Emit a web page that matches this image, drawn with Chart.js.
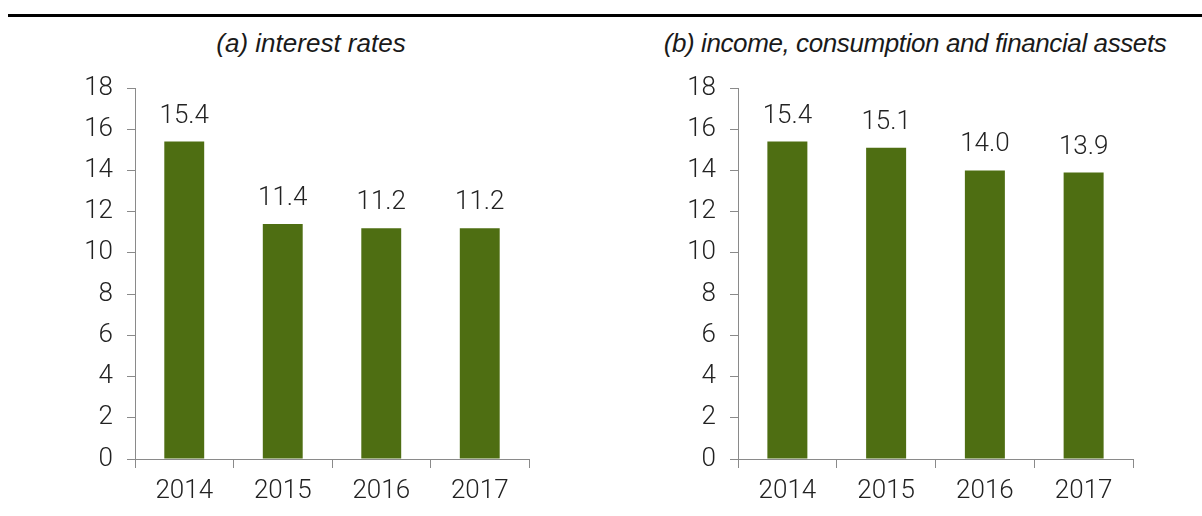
<!DOCTYPE html>
<html><head><meta charset="utf-8">
<script src="https://cdn.jsdelivr.net/npm/chart.js@4.4.0/dist/chart.umd.min.js"></script>
<style>
html,body{margin:0;padding:0;background:#fff;width:1202px;height:516px;overflow:hidden;position:relative;}
.rule{position:absolute;left:8px;top:14px;width:1194px;height:3px;background:#000;}
.ttl{position:absolute;top:28px;font-family:'Liberation Sans',sans-serif;font-style:italic;font-size:26px;line-height:30px;color:#1a1a1a;text-align:center;white-space:nowrap;}
.cv{position:absolute;top:50px;}
</style></head>
<body>
<div class="rule"></div>
<div class="ttl" id="t1" style="left:111px;width:400px;">(a) interest rates</div>
<div class="ttl" id="t2" style="left:615px;width:600px;letter-spacing:-0.4px;">(b) income, consumption and financial assets</div>
<div class="cv" style="left:0px;width:560px;height:466px;"><canvas id="c1"></canvas></div>
<div class="cv" style="left:600px;width:566px;height:466px;"><canvas id="c2"></canvas></div>
<script>
const categories = ['2014','2015','2016','2017'];
const interestRates = [15.4, 11.4, 11.2, 11.2];
const incomeConsumptionAssets = [15.4, 15.1, 14.0, 13.9];
const yTicks = [0,2,4,6,8,10,12,14,16,18];

const FONT = "Roboto, 'Liberation Sans', sans-serif";
const TXT = '#222';
const AX = '#8a8a8a';
const GREEN = '#4e6e12';

const valueLabels = {
  id:'valueLabels',
  afterDatasetsDraw(chart){
    const ctx = chart.ctx;
    const meta = chart.getDatasetMeta(0);
    ctx.save();
    ctx.font = '300 26px ' + FONT;
    ctx.fillStyle = TXT;
    ctx.textAlign = 'center';
    ctx.textBaseline = 'alphabetic';
    meta.data.forEach((bar,i)=>{
      const v = chart.data.datasets[0].data[i];
      ctx.fillText(v.toFixed(1), bar.x, bar.y - 19);
    });
    ctx.restore();
  }
};

function make(id, data, yWidth, padRight){
  return new Chart(document.getElementById(id), {
    type:'bar',
    data:{labels:categories, datasets:[{data:data, backgroundColor:GREEN, borderWidth:0, barPercentage:0.405, categoryPercentage:1.0}]},
    options:{
      responsive:true, maintainAspectRatio:false, animation:false,
      layout:{padding:{top:38,right:padRight,left:0,bottom:0}},
      plugins:{legend:{display:false}, tooltip:{enabled:false}, title:{display:false}},
      scales:{
        x:{
          grid:{display:true, drawOnChartArea:false, drawTicks:true, tickLength:9, color:AX, lineWidth:1, offset:true},
          border:{display:true, color:AX, width:1},
          ticks:{font:{family:FONT, size:26, weight:'300'}, color:TXT, padding:8},
          afterFit(s){ s.height = 57; }
        },
        y:{
          min:0, max:18,
          afterBuildTicks(s){ s.ticks = yTicks.map(v=>({value:v})); },
          grid:{display:true, drawOnChartArea:false, drawTicks:true, tickLength:8, color:AX, lineWidth:1},
          border:{display:true, color:AX, width:1},
          ticks:{font:{family:FONT, size:26, weight:'300'}, color:TXT, padding:14},
          afterFit(s){ s.width = yWidth; }
        }
      }
    },
    plugins:[valueLabels]
  });
}
make('c1', interestRates, 135, 31);
make('c2', incomeConsumptionAssets, 138, 33);
</script>
</body></html>
